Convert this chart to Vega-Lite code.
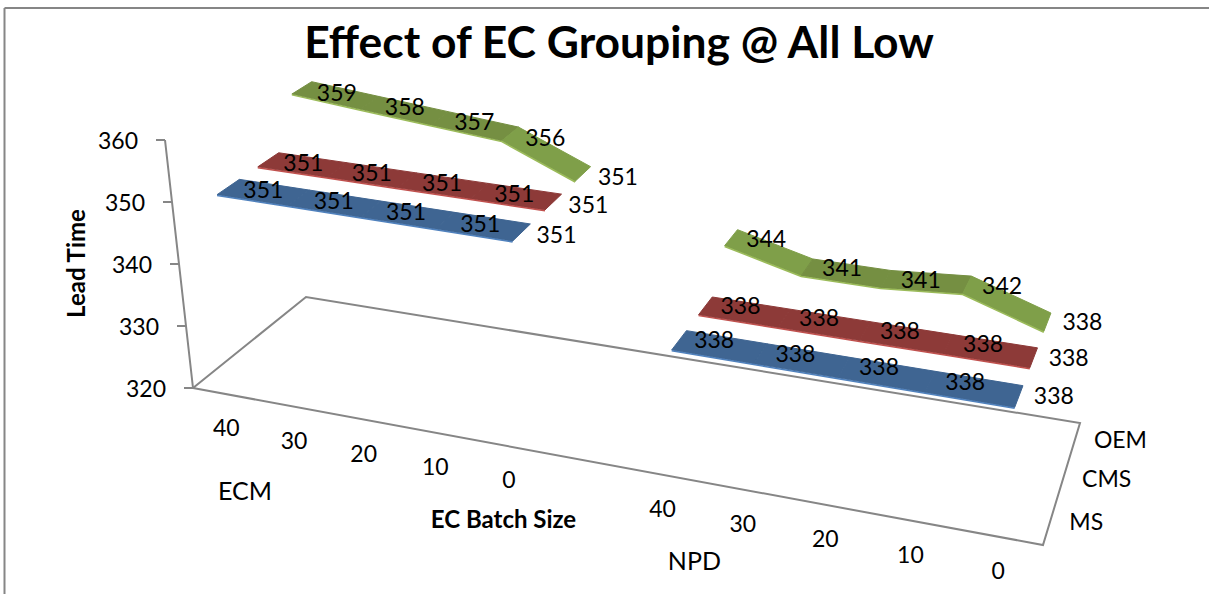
{
"$schema":"https://vega.github.io/schema/vega-lite/v6.json",
"width":1206,"height":587,
"autosize":{"type":"none"},
"padding":{"left":4,"top":7.5,"right":0,"bottom":0},
"background":"white",
"config":{"view":{"stroke":null},"text":{"font":"Lato"}},
"title":{"text":"Effect of EC Grouping @ All Low","font":"Lato","fontSize":44.4,"fontWeight":"bold","color":"#000000","anchor":"middle","frame":"group","baseline":"middle","offset":-36,"dx":12,"dy":46},
"datasets":{
"points":[
{"group":"ECM","batch":40,"series":"MS","value":351},{"group":"ECM","batch":30,"series":"MS","value":351},{"group":"ECM","batch":20,"series":"MS","value":351},{"group":"ECM","batch":10,"series":"MS","value":351},{"group":"ECM","batch":0,"series":"MS","value":351},
{"group":"NPD","batch":40,"series":"MS","value":338},{"group":"NPD","batch":30,"series":"MS","value":338},{"group":"NPD","batch":20,"series":"MS","value":338},{"group":"NPD","batch":10,"series":"MS","value":338},{"group":"NPD","batch":0,"series":"MS","value":338},
{"group":"ECM","batch":40,"series":"CMS","value":351},{"group":"ECM","batch":30,"series":"CMS","value":351},{"group":"ECM","batch":20,"series":"CMS","value":351},{"group":"ECM","batch":10,"series":"CMS","value":351},{"group":"ECM","batch":0,"series":"CMS","value":351},
{"group":"NPD","batch":40,"series":"CMS","value":338},{"group":"NPD","batch":30,"series":"CMS","value":338},{"group":"NPD","batch":20,"series":"CMS","value":338},{"group":"NPD","batch":10,"series":"CMS","value":338},{"group":"NPD","batch":0,"series":"CMS","value":338},
{"group":"ECM","batch":40,"series":"OEM","value":359},{"group":"ECM","batch":30,"series":"OEM","value":358},{"group":"ECM","batch":20,"series":"OEM","value":357},{"group":"ECM","batch":10,"series":"OEM","value":356},{"group":"ECM","batch":0,"series":"OEM","value":351},
{"group":"NPD","batch":40,"series":"OEM","value":344},{"group":"NPD","batch":30,"series":"OEM","value":341},{"group":"NPD","batch":20,"series":"OEM","value":341},{"group":"NPD","batch":10,"series":"OEM","value":342},{"group":"NPD","batch":0,"series":"OEM","value":338}
],
"ticks":[{"value":320},{"value":330},{"value":340},{"value":350},{"value":360}],
"floor":[{"corner":0,"u":0,"v":0},{"corner":1,"u":0,"v":1},{"corner":2,"u":1,"v":1},{"corner":3,"u":1,"v":0},{"corner":4,"u":0,"v":0}]
},
"encoding":{
"x":{"field":"px","type":"quantitative","scale":{"domain":[4,1210],"nice":false,"zero":false},"axis":{"orient":"top","title":"EC Batch Size","titleFont":"Lato","titleFontSize":24,"titleFontWeight":"bold","titleColor":"#000000","titleX":499,"titleY":512.5,"titleBaseline":"middle","titleAlign":"center","labels":false,"ticks":false,"grid":false,"domainColor":"#868686","domainWidth":2}},
"y":{"field":"py","type":"quantitative","scale":{"domain":[7.5,594.5],"reverse":true,"nice":false,"zero":false},"axis":{"orient":"left","title":"Lead Time","titleFont":"Lato","titleFontSize":24,"titleFontWeight":"bold","titleColor":"#000000","titleX":73,"titleY":255.5,"titleBaseline":"middle","titleAlign":"center","labels":false,"ticks":false,"grid":false,"domainColor":"#868686","domainWidth":2}}
},
"layer":[
{"data":{"name":"floor"},
"transform":[
{"calculate":"-0.1455*datum.u+0.10515*datum.v+1","as":"w"},
{"calculate":"(698.24*datum.u+145.18*datum.v+193)/datum.w","as":"px"},
{"calculate":"(77.7*datum.u-59.77*datum.v+388)/datum.w","as":"py"}],
"mark":{"type":"line","stroke":"#868686","strokeWidth":2,"interpolate":"linear"},
"encoding":{"order":{"field":"corner","type":"ordinal"}}},
{"data":{"name":"ticks"},
"transform":[
{"calculate":"(datum.value-320)/40","as":"z"},
{"calculate":"193-28*datum.z","as":"px"},
{"calculate":"388-248*datum.z","as":"py"}],
"mark":{"type":"line","stroke":"#868686","strokeWidth":2},
"encoding":{"order":{"field":"value","type":"quantitative"}}},
{"data":{"name":"ticks"},
"transform":[
{"calculate":"(datum.value-320)/40","as":"z"},
{"calculate":"193-28*datum.z","as":"px"},
{"calculate":"datum.px-9","as":"px2"},
{"calculate":"388-248*datum.z","as":"py"}],
"mark":{"type":"rule","stroke":"#868686","strokeWidth":2},
"encoding":{"x2":{"field":"px2"}}},
{"data":{"name":"ticks"},
"transform":[
{"calculate":"(datum.value-320)/40","as":"z"},
{"calculate":"193-28*datum.z","as":"px"},
{"calculate":"388-248*datum.z","as":"py"}],
"mark":{"type":"text","font":"Lato","fontSize":23,"align":"right","baseline":"middle","dx":-27,"dy":1.5,"color":"#000000"},
"encoding":{"text":{"field":"value","type":"quantitative"}}},
{"data":{"name":"points"},
"transform":[
{"window":[{"op":"lead","field":"value","as":"next"}],"sort":[{"field":"batch","order":"descending"}],"groupby":["group","series"]},
{"filter":"datum.next!=null"},
{"calculate":"[0,1,2,3,4]","as":"corner"},
{"flatten":["corner"]},
{"calculate":"(datum.corner==1||datum.corner==2)?1:0","as":"atNext"},
{"calculate":"(datum.corner==2||datum.corner==3)?1:0","as":"atBack"},
{"calculate":"((datum.group=='NPD'?6:0)+(40-datum.batch)/10+datum.atNext+0.5)/11","as":"u"},
{"calculate":"((datum.series=='MS'?0:datum.series=='CMS'?1:2)+0.5)/3+(datum.atBack?0.09:-0.09)","as":"v"},
{"calculate":"((datum.atNext?datum.next:datum.value)-320)/40","as":"z"},
{"calculate":"-0.1455*datum.u+0.10515*datum.v+1","as":"w"},
{"calculate":"(698.24*datum.u+145.18*datum.v+193)/datum.w","as":"fx"},
{"calculate":"(77.7*datum.u-59.77*datum.v+388)/datum.w","as":"fy"},
{"calculate":"datum.fx+datum.z*(-28+0.0675*(datum.fx-193))+1","as":"px"},
{"calculate":"datum.fy+datum.z*(-248-0.0222*(datum.fx-193)+20*datum.v)","as":"py"},
{"calculate":"datum.series=='OEM'?(abs(datum.next-datum.value)>=3?'OEM steep':'OEM flat'):datum.series","as":"shade"},
{"calculate":"datum.group+datum.series+datum.batch","as":"seg"}],
"mark":{"type":"line","strokeWidth":1,"interpolate":"linear","opacity":1,"fillOpacity":1,"strokeOpacity":1},
"encoding":{
"detail":{"field":"seg"},
"order":{"field":"corner","type":"quantitative"},
"fill":{"field":"shade","type":"nominal","legend":null,"scale":{"domain":["MS","CMS","OEM flat","OEM steep"],"range":["#3f6592","#8d3a38","#758f42","#7f9f49"]}},
"stroke":{"field":"shade","type":"nominal","legend":null,"scale":{"domain":["MS","CMS","OEM flat","OEM steep","edge MS","edge CMS","edge OEM"],"range":["#3f6592","#8d3a38","#758f42","#7f9f49","#4f81bd","#c0504d","#9bbb59"]}}
}},
{"data":{"name":"points"},
"transform":[
{"calculate":"((datum.group=='NPD'?6:0)+(40-datum.batch)/10+0.5)/11","as":"u"},
{"calculate":"((datum.series=='MS'?0:datum.series=='CMS'?1:2)+0.5)/3-0.09","as":"v"},
{"calculate":"(datum.value-320)/40","as":"z"},
{"calculate":"-0.1455*datum.u+0.10515*datum.v+1","as":"w"},
{"calculate":"(698.24*datum.u+145.18*datum.v+193)/datum.w","as":"fx"},
{"calculate":"(77.7*datum.u-59.77*datum.v+388)/datum.w","as":"fy"},
{"calculate":"datum.fx+datum.z*(-28+0.0675*(datum.fx-193))+1","as":"px"},
{"calculate":"datum.fy+datum.z*(-248-0.0222*(datum.fx-193)+20*datum.v)+0.8","as":"py"},
{"calculate":"'edge '+datum.series","as":"shade"},
{"calculate":"datum.group+datum.series","as":"run"}],
"mark":{"type":"line","strokeWidth":1.5},
"encoding":{
"detail":{"field":"run"},
"order":{"field":"u","type":"quantitative"},
"stroke":{"field":"shade","type":"nominal","legend":null,"scale":{"domain":["MS","CMS","OEM flat","OEM steep","edge MS","edge CMS","edge OEM"],"range":["#3f6592","#8d3a38","#758f42","#7f9f49","#4f81bd","#c0504d","#9bbb59"]}}
}},
{"data":{"name":"points"},
"transform":[
{"calculate":"((datum.group=='NPD'?6:0)+(40-datum.batch)/10+0.5)/11","as":"u"},
{"calculate":"((datum.series=='MS'?0:datum.series=='CMS'?1:2)+0.5)/3","as":"v"},
{"calculate":"(datum.value-320)/40","as":"z"},
{"calculate":"-0.1455*datum.u+0.10515*datum.v+1","as":"w"},
{"calculate":"(698.24*datum.u+145.18*datum.v+193)/datum.w","as":"fx"},
{"calculate":"(77.7*datum.u-59.77*datum.v+388)/datum.w","as":"fy"},
{"calculate":"datum.fx+datum.z*(-28+0.0675*(datum.fx-193))+1","as":"px"},
{"calculate":"datum.fy+datum.z*(-248-0.0222*(datum.fx-193)+20*datum.v)+9*(datum.z-0.45)","as":"py"}],
"mark":{"type":"text","font":"Lato","fontSize":23,"align":"center","baseline":"middle","dx":35,"dy":1,"color":"#000000"},
"encoding":{"text":{"field":"value","type":"quantitative"}}},
{"data":{"name":"points"},
"transform":[
{"filter":"datum.series=='MS'"},
{"calculate":"((datum.group=='NPD'?6:0)+(40-datum.batch)/10+0.5)/11","as":"u"},
{"calculate":"-0.1455*datum.u+1","as":"w"},
{"calculate":"(698.24*datum.u+193)/datum.w","as":"px"},
{"calculate":"(77.7*datum.u+388)/datum.w","as":"py"}],
"mark":{"type":"text","font":"Lato","fontSize":23,"align":"center","baseline":"middle","dy":35,"color":"#000000"},
"encoding":{"text":{"field":"batch","type":"quantitative"}}},
{"data":{"name":"points"},
"transform":[
{"filter":"datum.series=='MS'&&datum.batch==40"},
{"calculate":"((datum.group=='NPD'?6.4:0.28)+0.5)/11","as":"u"},
{"calculate":"-0.1455*datum.u+1","as":"w"},
{"calculate":"(698.24*datum.u+193)/datum.w","as":"px"},
{"calculate":"(77.7*datum.u+388)/datum.w+(datum.group=='NPD'?81:94)","as":"py"}],
"mark":{"type":"text","font":"Lato","fontSize":25,"align":"center","baseline":"middle","color":"#000000"},
"encoding":{"text":{"field":"group","type":"nominal"}}},
{"data":{"name":"points"},
"transform":[
{"filter":"datum.group=='NPD'&&datum.batch==0"},
{"calculate":"((datum.series=='MS'?0:datum.series=='CMS'?1:2)+0.5)/3","as":"v"},
{"calculate":"-0.1455+0.10515*datum.v+1","as":"w"},
{"calculate":"(698.24+145.18*datum.v+193)/datum.w","as":"px"},
{"calculate":"(77.7-59.77*datum.v+388)/datum.w","as":"py"}],
"mark":{"type":"text","font":"Lato","fontSize":23,"align":"left","baseline":"middle","dx":19.5,"color":"#000000"},
"encoding":{"text":{"field":"series","type":"nominal"}}}
]
}
